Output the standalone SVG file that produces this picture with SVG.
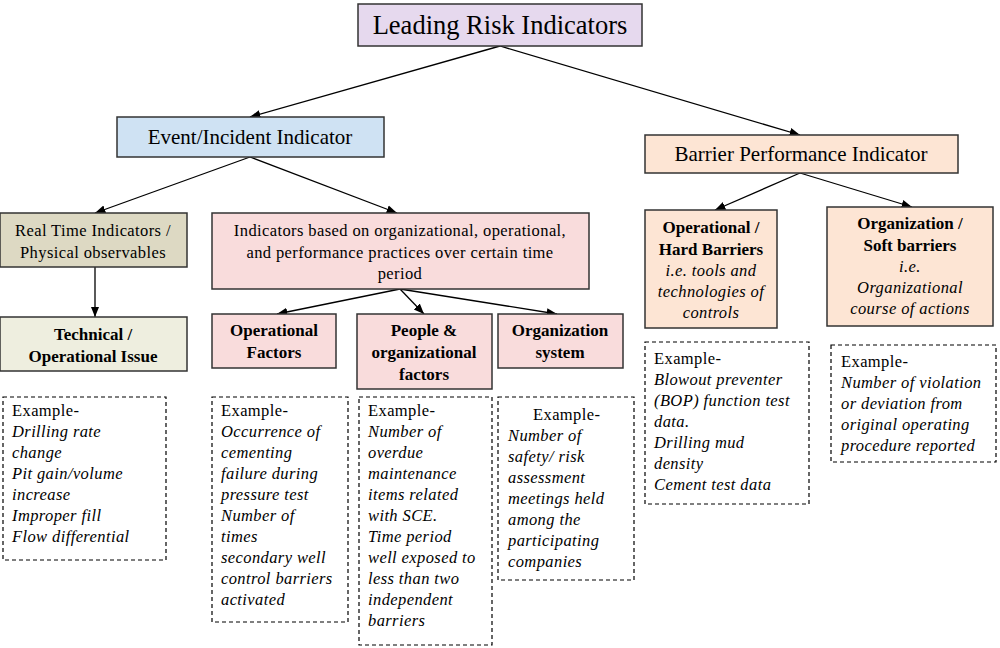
<svg xmlns="http://www.w3.org/2000/svg" width="1000" height="648" viewBox="0 0 1000 648">
<style>
text{font-family:"Liberation Serif","Times New Roman",serif;fill:#000}
.n{stroke:#333;stroke-width:1.5}
.b{font-weight:bold;font-size:17px}
.t{font-size:16.5px;letter-spacing:0.4px}
.i{font-style:italic;font-size:16.5px;letter-spacing:0.4px}
.d{fill:#fff;stroke:#000;stroke-width:1.2;stroke-dasharray:4 3}
.c line{stroke:#000;stroke-width:1.3;marker-end:url(#a)}
</style>
<defs><marker id="a" viewBox="0 0 10 10" refX="10" refY="5" markerWidth="8" markerHeight="8" orient="auto"><path d="M0,1L10,5L0,9z" fill="#000"/></marker></defs>
<rect width="1000" height="648" fill="#fff"/>
<g class="c">
<line x1="500" y1="46" x2="250" y2="117"/>
<line x1="500" y1="46" x2="800" y2="135"/>
<line x1="250" y1="157" x2="95" y2="213"/>
<line x1="250" y1="157" x2="397" y2="213"/>
<line x1="95" y1="267" x2="95" y2="317"/>
<line x1="400" y1="289" x2="277" y2="314"/>
<line x1="400" y1="289" x2="424" y2="314"/>
<line x1="400" y1="289" x2="557" y2="314"/>
<line x1="800" y1="173" x2="715" y2="210"/>
<line x1="800" y1="173" x2="912" y2="207"/>
</g>
<g id="top"><rect class="n" x="358" y="4" width="284" height="42" fill="#e6d9ee"/><text x="500" y="34" text-anchor="middle" font-size="26.5">Leading Risk Indicators</text></g>
<g id="event"><rect class="n" x="117" y="117" width="267" height="40" fill="#cfe2f3"/><text x="250" y="144" text-anchor="middle" font-size="21">Event/Incident Indicator</text></g>
<g id="barrier"><rect class="n" x="645" y="135" width="313" height="38" fill="#fde5d4"/><text x="801" y="161" text-anchor="middle" font-size="21">Barrier Performance Indicator</text></g>
<g id="realtime"><rect class="n" x="0" y="213" width="187" height="54" fill="#ddd9c3"/><text class="t" text-anchor="middle"><tspan x="93" y="236">Real Time Indicators /</tspan><tspan x="93" y="258">Physical observables</tspan></text></g>
<g id="indicators"><rect class="n" x="212" y="213" width="377" height="76" fill="#f9dcdc"/><text class="t" text-anchor="middle"><tspan x="400" y="236">Indicators based on organizational, operational,</tspan><tspan x="400" y="258">and performance practices over certain time</tspan><tspan x="400" y="279">period</tspan></text></g>
<g id="technical"><rect class="n" x="0" y="317" width="187" height="54" fill="#eeeedf"/><text class="b" text-anchor="middle"><tspan x="93" y="340">Technical /</tspan><tspan x="93" y="362">Operational Issue</tspan></text></g>
<g id="opfactors"><rect class="n" x="212" y="314" width="124" height="54" fill="#f9dcdc"/><text class="b" text-anchor="middle"><tspan x="274" y="336">Operational</tspan><tspan x="274" y="358">Factors</tspan></text></g>
<g id="people"><rect class="n" x="357" y="314" width="135" height="75" fill="#f9dcdc"/><text class="b" text-anchor="middle"><tspan x="424" y="336">People &amp;</tspan><tspan x="424" y="358">organizational</tspan><tspan x="424" y="380">factors</tspan></text></g>
<g id="orgsys"><rect class="n" x="498" y="314" width="125" height="54" fill="#f9dcdc"/><text class="b" text-anchor="middle"><tspan x="560" y="336">Organization</tspan><tspan x="560" y="358">system</tspan></text></g>
<g id="hard"><rect class="n" x="645" y="210" width="132" height="118" fill="#fde5d4"/><text text-anchor="middle"><tspan class="b" x="711" y="233">Operational /</tspan><tspan class="b" x="711" y="255">Hard Barriers</tspan><tspan class="i" x="711" y="276">i.e. tools and</tspan><tspan class="i" x="711" y="297">technologies of</tspan><tspan class="i" x="711" y="318">controls</tspan></text></g>
<g id="soft"><rect class="n" x="827" y="207" width="166" height="119" fill="#fde5d4"/><text text-anchor="middle"><tspan class="b" x="910" y="229">Organization /</tspan><tspan class="b" x="910" y="251">Soft barriers</tspan><tspan class="i" x="910" y="272">i.e.</tspan><tspan class="i" x="910" y="293">Organizational</tspan><tspan class="i" x="910" y="314">course of actions</tspan></text></g>
<g id="ex1"><rect class="d" x="3" y="397" width="163" height="163"/><text><tspan class="t" x="12" y="416">Example-</tspan><tspan class="i" x="12" y="437">Drilling rate</tspan><tspan class="i" x="12" y="458">change</tspan><tspan class="i" x="12" y="479">Pit gain/volume</tspan><tspan class="i" x="12" y="500">increase</tspan><tspan class="i" x="12" y="521">Improper fill</tspan><tspan class="i" x="12" y="542">Flow differential</tspan></text></g>
<g id="ex2"><rect class="d" x="212" y="397" width="136" height="225"/><text><tspan class="t" x="221" y="416">Example-</tspan><tspan class="i" x="221" y="437">Occurrence of</tspan><tspan class="i" x="221" y="458">cementing</tspan><tspan class="i" x="221" y="479">failure during</tspan><tspan class="i" x="221" y="500">pressure test</tspan><tspan class="i" x="221" y="521">Number of</tspan><tspan class="i" x="221" y="542">times</tspan><tspan class="i" x="221" y="563">secondary well</tspan><tspan class="i" x="221" y="584">control barriers</tspan><tspan class="i" x="221" y="605">activated</tspan></text></g>
<g id="ex3"><rect class="d" x="359" y="397" width="133" height="248"/><text><tspan class="t" x="368" y="416">Example-</tspan><tspan class="i" x="368" y="437">Number of</tspan><tspan class="i" x="368" y="458">overdue</tspan><tspan class="i" x="368" y="479">maintenance</tspan><tspan class="i" x="368" y="500">items related</tspan><tspan class="i" x="368" y="521">with SCE.</tspan><tspan class="i" x="368" y="542">Time period</tspan><tspan class="i" x="368" y="563">well exposed to</tspan><tspan class="i" x="368" y="584">less than two</tspan><tspan class="i" x="368" y="605">independent</tspan><tspan class="i" x="368" y="626">barriers</tspan></text></g>
<g id="ex4"><rect class="d" x="498" y="397" width="136" height="183"/><text><tspan class="t" x="533" y="420">Example-</tspan><tspan class="i" x="508" y="441">Number of</tspan><tspan class="i" x="508" y="462">safety/ risk</tspan><tspan class="i" x="508" y="483">assessment</tspan><tspan class="i" x="508" y="504">meetings held</tspan><tspan class="i" x="508" y="525">among the</tspan><tspan class="i" x="508" y="546">participating</tspan><tspan class="i" x="508" y="567">companies</tspan></text></g>
<g id="ex5"><rect class="d" x="645" y="342" width="164" height="162"/><text><tspan class="t" x="654" y="364">Example-</tspan><tspan class="i" x="654" y="385">Blowout preventer</tspan><tspan class="i" x="654" y="406">(BOP) function test</tspan><tspan class="i" x="654" y="427">data.</tspan><tspan class="i" x="654" y="448">Drilling mud</tspan><tspan class="i" x="654" y="469">density</tspan><tspan class="i" x="654" y="490">Cement test data</tspan></text></g>
<g id="ex6"><rect class="d" x="831" y="345" width="165" height="117"/><text><tspan class="t" x="841" y="367">Example-</tspan><tspan class="i" x="841" y="388">Number of violation</tspan><tspan class="i" x="841" y="409">or deviation from</tspan><tspan class="i" x="841" y="430">original operating</tspan><tspan class="i" x="841" y="451">procedure reported</tspan></text></g>
</svg>
